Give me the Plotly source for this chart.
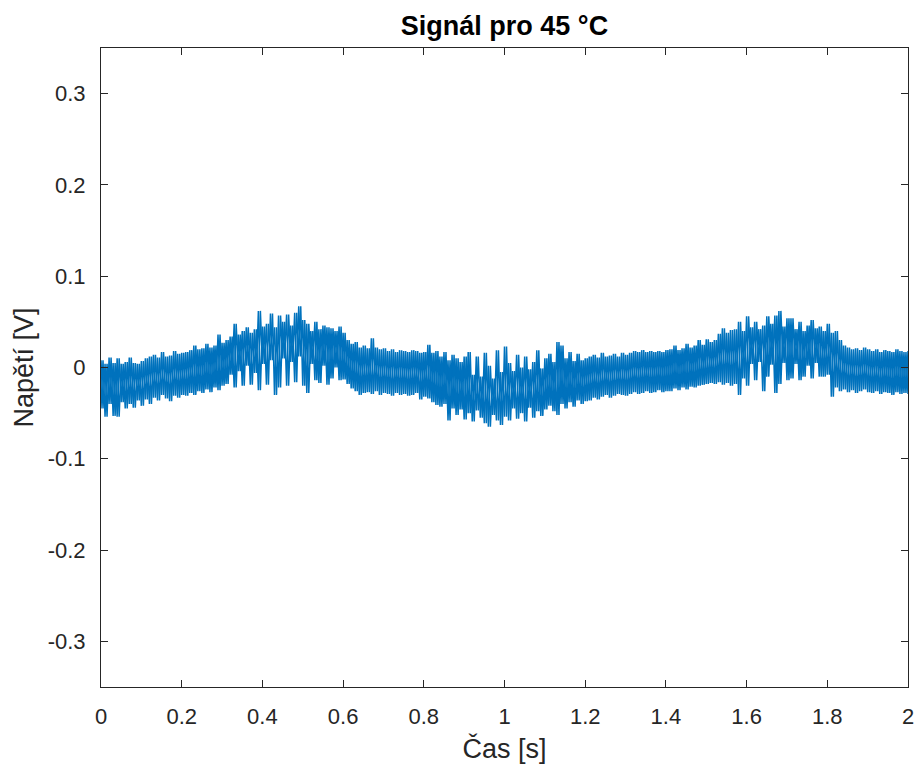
import numpy as np
import plotly.graph_objects as go

# Sampling grid (s): one max/min pair read every 10 ms
t_step = 0.01
t = np.round(np.arange(201) * t_step, 2)

# Local maxima of the signal [V], t = 0.00 ... 2.00
upper = [
    0.008, 0.004, 0.011, 0.005, 0.010, 0.004, 0.006, 0.011, 0.005, 0.004, 0.007,
    0.010, 0.012, 0.014, 0.011, 0.017, 0.012, 0.013, 0.018, 0.015, 0.016,
    0.017, 0.019, 0.024, 0.020, 0.021, 0.026, 0.022, 0.024, 0.036, 0.027,
    0.030, 0.034, 0.048, 0.036, 0.040, 0.044, 0.038, 0.042, 0.062, 0.045,
    0.048, 0.059, 0.044, 0.057, 0.050, 0.058, 0.046, 0.060, 0.067, 0.052,
    0.048, 0.040, 0.050, 0.042, 0.046, 0.044, 0.043, 0.040, 0.045, 0.038,
    0.030, 0.026, 0.028, 0.022, 0.024, 0.021, 0.032, 0.022, 0.020, 0.021,
    0.018, 0.020, 0.017, 0.019, 0.018, 0.017, 0.019, 0.018, 0.016, 0.017,
    0.025, 0.016, 0.018, 0.012, 0.017, 0.008, 0.014, 0.010, 0.006, 0.012,
    0.017, -0.008, 0.012, -0.010, 0.016, 0.002, -0.012, 0.019, -0.005, 0.023,
    0.005, -0.004, 0.014, 0.000, 0.012, -0.002, 0.006, 0.019, -0.001, 0.010,
    0.015, 0.006, 0.028, 0.024, 0.010, 0.017, 0.007, 0.015, 0.008, 0.010,
    0.012, 0.014, 0.011, 0.016, 0.012, 0.013, 0.015, 0.012, 0.016, 0.014,
    0.016, 0.018, 0.017, 0.019, 0.017, 0.018, 0.017, 0.018, 0.017, 0.019,
    0.020, 0.024, 0.019, 0.021, 0.026, 0.022, 0.024, 0.030, 0.025, 0.031,
    0.028, 0.030, 0.037, 0.043, 0.038, 0.041, 0.042, 0.050, 0.040, 0.056,
    0.044, 0.050, 0.042, 0.046, 0.056, 0.048, 0.057, 0.062, 0.045, 0.054,
    0.054, 0.042, 0.050, 0.040, 0.046, 0.052, 0.043, 0.045, 0.040, 0.048,
    0.038, 0.040, 0.030, 0.024, 0.022, 0.020, 0.021, 0.019, 0.022, 0.020,
    0.018, 0.020, 0.017, 0.019, 0.018, 0.017, 0.020, 0.018, 0.017, 0.018,
]

# Local minima of the signal [V], t = 0.00 ... 2.00
lower = [
    -0.045, -0.054, -0.040, -0.053, -0.054, -0.038, -0.045, -0.040, -0.044, -0.036, -0.042,
    -0.035, -0.040, -0.033, -0.036, -0.030, -0.034, -0.037, -0.031, -0.033, -0.030,
    -0.031, -0.028, -0.030, -0.026, -0.028, -0.024, -0.027, -0.022, -0.025, -0.020,
    -0.018, -0.008, -0.022, -0.004, -0.020, 0.002, -0.019, -0.006, -0.025, 0.004,
    -0.019, 0.008, -0.030, -0.022, 0.010, -0.020, 0.006, -0.016, 0.012, -0.020,
    -0.028, 0.004, -0.014, -0.017, 0.002, -0.019, -0.012, 0.000, -0.014, -0.013,
    -0.018, -0.023, -0.026, -0.030, -0.028, -0.027, -0.029, -0.026, -0.030, -0.028,
    -0.029, -0.031, -0.028, -0.030, -0.029, -0.031, -0.030, -0.028, -0.035, -0.032,
    -0.034, -0.038, -0.041, -0.043, -0.040, -0.058, -0.045, -0.052, -0.046, -0.057,
    -0.050, -0.059, -0.047, -0.055, -0.061, -0.065, -0.052, -0.058, -0.063, -0.054,
    -0.058, -0.045, -0.056, -0.050, -0.059, -0.044, -0.055, -0.048, -0.053, -0.046,
    -0.042, -0.048, -0.052, -0.040, -0.045, -0.038, -0.043, -0.036, -0.040, -0.037,
    -0.036, -0.033, -0.035, -0.032, -0.030, -0.033, -0.031, -0.029, -0.030, -0.031,
    -0.029, -0.027, -0.029, -0.028, -0.026, -0.028, -0.027, -0.025, -0.027, -0.026,
    -0.026, -0.023, -0.025, -0.022, -0.024, -0.021, -0.022, -0.020, -0.019, -0.018,
    -0.017, -0.018, -0.016, -0.019, -0.017, -0.020, -0.018, -0.030, -0.012, -0.020,
    0.004, -0.014, 0.006, -0.026, -0.010, 0.003, -0.028, -0.018, 0.005, -0.014,
    -0.012, 0.004, -0.014, -0.010, 0.002, -0.012, 0.005, -0.010, -0.010, -0.008,
    -0.032, -0.022, -0.026, -0.024, -0.027, -0.025, -0.028, -0.026, -0.024, -0.027,
    -0.028, -0.026, -0.029, -0.027, -0.028, -0.030, -0.027, -0.029, -0.028, -0.029,
]

x_ticks = [0, 0.2, 0.4, 0.6, 0.8, 1.0, 1.2, 1.4, 1.6, 1.8, 2.0]
x_tick_labels = ["0", "0.2", "0.4", "0.6", "0.8", "1", "1.2", "1.4", "1.6", "1.8", "2"]
y_ticks = [-0.3, -0.2, -0.1, 0, 0.1, 0.2, 0.3]
y_tick_labels = ["-0.3", "-0.2", "-0.1", "0", "0.1", "0.2", "0.3"]

# The recorded signal oscillates far faster than the pixel grid, so each
# 10 ms column is drawn as a max/min swing; two phase-shifted passes
# render the dense band solid, as in the original trace.
xs_a, ys_a, xs_b, ys_b = [], [], [], []
for ti, hi, lo in zip(t, upper, lower):
    xs_a.extend([ti, ti + t_step / 2])
    ys_a.extend([hi, lo])
    xs_b.extend([ti, ti + t_step / 2])
    ys_b.extend([lo, hi])

AX = "#262626"
BLUE = "#0072BD"
FONT = "Liberation Sans, Arial, Helvetica, sans-serif"

fig = go.Figure()
for xs, ys in ((xs_a, ys_a), (xs_b, ys_b)):
    fig.add_trace(go.Scatter(x=xs, y=ys, mode="lines",
                             line=dict(color=BLUE, width=1.5), hoverinfo="skip"))

axis_common = dict(
    showline=True, linecolor=AX, linewidth=1, mirror="ticks",
    ticks="inside", ticklen=7, tickcolor=AX, tickwidth=1,
    showgrid=False, zeroline=False, automargin=False,
    ticklabelstandoff=10,
    tickfont=dict(family=FONT, size=22, color=AX),
)

fig.update_layout(
    width=921, height=771,
    margin=dict(l=101, r=13, t=48, b=84),
    paper_bgcolor="white", plot_bgcolor="white",
    showlegend=False,
    title=dict(text="<b>Signál pro 45 °C</b>", x=0.5, xanchor="center",
               xref="paper",
               y=1 - 26 / 771, yanchor="middle",
               font=dict(family=FONT, size=27, color="black")),
    xaxis=dict(range=[0, 2], tickvals=x_ticks, ticktext=x_tick_labels,
               title=dict(text="Čas [s]", standoff=10,
                          font=dict(family=FONT, size=27, color=AX)),
               **axis_common),
    yaxis=dict(range=[-0.35, 0.35], tickvals=y_ticks, ticktext=y_tick_labels,
               title=dict(text="Napětí [V]", standoff=6,
                          font=dict(family=FONT, size=27, color=AX)),
               **axis_common),
)

fig.write_html("out.html", config={"displayModeBar": False},
               post_script="document.body.style.margin='0';document.body.style.overflow='hidden';")
